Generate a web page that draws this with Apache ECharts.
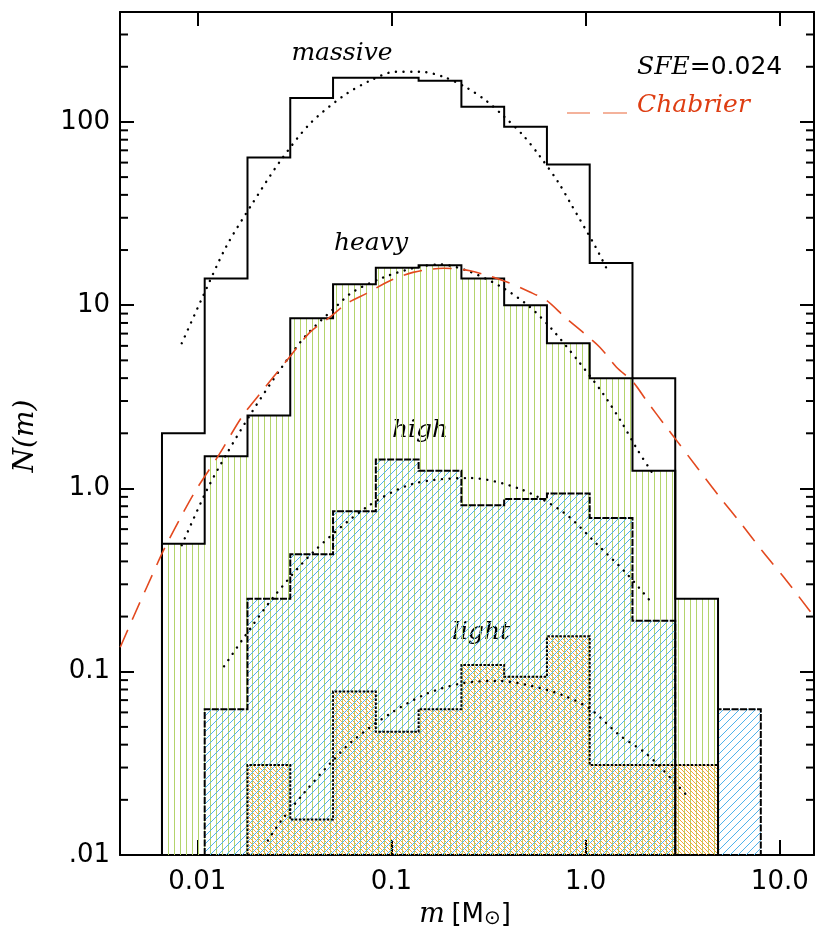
<!DOCTYPE html>
<html lang="en">
<head>
<meta charset="UTF-8">
<title>N(m) mass functions</title>
<script src="https://cdn.jsdelivr.net/npm/echarts@6.0.0/dist/echarts.min.js"></script>
<style>
  html, body { margin: 0; padding: 0; background: #fff; }
  #chart { width: 830px; height: 950px; }
</style>
</head>
<body>
<div id="chart"></div>
<script>
// bin edges of the histograms, in M_sun (equal steps in log m)
const binEdges = [0.00658, 0.01092, 0.01814, 0.03012, 0.05003, 0.08308, 0.1380, 0.2292,
                  0.3806, 0.6320, 1.0495, 1.743, 2.894, 4.807, 7.982];

// N(m) per bin, null = empty bin
const massive = [2, 14, 64, 135, 174, 174, 168, 121, 94, 58.6, 17, 4];
const heavy   = [0.5, 1.5, 2.5, 8.5, 13, 16, 16.5, 14, 10, 6.2, 4, 1.25, 0.25];
const high    = [null, 0.0625, 0.25, 0.4375, 0.75, 1.44, 1.25, 0.81, 0.875, 0.94, 0.69, 0.19, null, 0.0625];
const light   = [null, null, 0.031, 0.0156, 0.078, 0.047, 0.0625, 0.109, 0.094, 0.156, 0.031, 0.031, 0.031];

// dotted log-normal fits, [m, N]
const massiveFit = [[0.00832, 6.2], [0.0107, 11.2], [0.0141, 20.9], [0.0191, 35.5], [0.0269, 61.7],
  [0.0380, 97.7], [0.0562, 138], [0.0776, 168], [0.105, 188], [0.141, 188], [0.186, 176],
  [0.246, 153], [0.309, 130], [0.380, 107], [0.479, 84], [0.575, 66], [0.724, 46.8],
  [0.832, 36.3], [1.122, 20.9], [1.288, 15.7]];
const heavyFit = [[0.00832, 0.49], [0.0112, 0.98], [0.0141, 1.53], [0.0191, 2.61], [0.0269, 4.50],
  [0.0363, 6.84], [0.0525, 9.95], [0.0631, 11.8], [0.0912, 14.2], [0.135, 16.1], [0.178, 16.7],
  [0.251, 15.3], [0.372, 12.5], [0.513, 9.84], [0.668, 7.43], [0.912, 4.99], [1.23, 3.29],
  [1.53, 2.30], [1.86, 1.61], [2.19, 1.23]];
const highFit = [[0.01374, 0.107], [0.01726, 0.152], [0.02466, 0.255], [0.0396, 0.450], [0.0745, 0.791],
  [0.129, 1.06], [0.254, 1.14], [0.458, 0.995], [0.766, 0.743], [1.138, 0.499], [1.626, 0.343],
  [2.138, 0.245]];
const lightFit = [[0.0231, 0.0120], [0.0267, 0.0151], [0.0352, 0.0216], [0.0482, 0.0315], [0.0635, 0.0422],
  [0.0982, 0.0590], [0.152, 0.0759], [0.234, 0.0867], [0.355, 0.0891], [0.516, 0.0841],
  [0.766, 0.0743], [1.052, 0.0628], [1.500, 0.0449], [2.056, 0.0357], [2.818, 0.0255], [3.436, 0.0203]];

// Chabrier IMF (dashed)
const chabrier = [[0.00401, 0.136], [0.00469, 0.199], [0.0055, 0.290], [0.0067, 0.459], [0.00832, 0.713],
  [0.00993, 0.995], [0.01285, 1.51], [0.01694, 2.45], [0.02104, 3.29], [0.0289, 4.99], [0.0381, 7.13],
  [0.0482, 8.61], [0.0587, 10.2], [0.0745, 11.6], [0.0982, 13.6], [0.129, 15.1], [0.185, 15.9],
  [0.254, 15.4], [0.377, 13.6], [0.516, 11.8], [0.630, 10.6], [0.782, 8.6], [0.970, 7.1],
  [1.183, 5.9], [1.442, 4.59], [1.758, 3.80], [2.056, 3.02], [2.606, 2.16], [2.938, 1.83],
  [3.793, 1.28], [4.909, 0.897], [6.339, 0.641], [8.204, 0.450], [10.81, 0.315], [15.0, 0.20]];

// axis ranges and tick labels
const xMin = 0.004, xMax = 15;
const yMin = 0.01, yMax = 398;
const xTickLabels = { '-2': '0.01', '-1': '0.1', '0': '1.0', '1': '10.0' };
const yTickLabels = { '-2': '.01', '-1': '0.1', '0': '1.0', '1': '10', '2': '100' };

// minor ticks on the y axis: 2..9 times each decade
const yMinorTicks = [];
[-2, -1, 0, 1, 2].forEach(function (d) {
  for (let k = 2; k <= 9; k++) {
    const v = k * Math.pow(10, d);
    if (v < yMax) yMinorTicks.push(v);
  }
});

// hatch patterns, drawn pixel by pixel so the colour stays crisp
function hatch(size, color, on) {
  const c = document.createElement('canvas');
  c.width = size; c.height = size;
  const ctx = c.getContext('2d');
  ctx.fillStyle = color;
  for (let y = 0; y < size; y++) {
    for (let x = 0; x < size; x++) {
      if (on(x, y, size)) ctx.fillRect(x, y, 1, 1);
    }
  }
  return { image: c, repeat: 'repeat' };
}
const greenHatch = hatch(6, '#b3d46c', function (x) { return x === 0; });
const blueHatch = hatch(8, '#4eb2ec', function (x, y, s) { return (x + y) % s === 0; });
const orangeHatch = hatch(4, '#f5a236', function (x, y, s) { return (x - y + s) % s === 0; });

function bins(values) {
  const out = [];
  values.forEach(function (v, i) {
    if (v != null) out.push([binEdges[i], binEdges[i + 1], v]);
  });
  return out;
}

// step outline of a histogram, dropping to the floor at the ends and at empty bins
function outline(values) {
  const pts = [];
  let prev = yMin;
  let started = false;
  values.forEach(function (v, i) {
    if (!started && v == null) return;
    started = true;
    const h = v == null ? yMin : v;
    pts.push([binEdges[i], prev]);
    pts.push([binEdges[i], h]);
    pts.push([binEdges[i + 1], h]);
    prev = h;
  });
  pts.push([binEdges[values.length], yMin]);
  return pts;
}

function fillSeries(name, values, pattern) {
  return {
    name: name,
    type: 'custom',
    silent: true,
    data: bins(values),
    encode: { x: [0, 1], y: 2 },
    renderItem: function (params, api) {
      const a = api.coord([api.value(0), api.value(2)]);
      const b = api.coord([api.value(1), yMin]);
      return {
        type: 'rect',
        shape: { x: a[0], y: a[1], width: b[0] - a[0], height: b[1] - a[1] },
        style: { fill: pattern, stroke: null }
      };
    }
  };
}

function stepSeries(name, values, type, width) {
  return {
    name: name,
    type: 'line',
    silent: true,
    data: outline(values),
    symbol: 'none',
    lineStyle: { color: '#000', width: width, type: type, join: 'miter' }
  };
}

function fitSeries(name, pts) {
  return {
    name: name,
    type: 'line',
    silent: true,
    data: pts,
    symbol: 'none',
    smooth: 0.3,
    lineStyle: { color: '#000', width: 2.4, type: [0.1, 7.5], cap: 'round' }
  };
}

const myChart = echarts.init(document.getElementById('chart'), null, { renderer: 'canvas' });

function logLabel(map) {
  return function (v) {
    const e = Math.log10(v);
    const r = Math.round(e);
    return Math.abs(e - r) < 1e-6 && map[r] !== undefined ? map[r] : '';
  };
}

const axisLineStyle = { color: '#000', width: 2 };
const tickStyle = { color: '#000', width: 2 };

const option = {
  backgroundColor: '#fff',
  animation: false,
  grid: { left: 120, top: 12, width: 694, height: 843 },
  xAxis: [{
    type: 'log', logBase: 10, min: xMin, max: xMax, position: 'bottom',
    axisLine: { lineStyle: axisLineStyle },
    axisTick: { inside: true, length: 15, lineStyle: tickStyle },
    axisLabel: {
      formatter: logLabel(xTickLabels), fontSize: 26, fontFamily: 'DejaVu Sans',
      color: '#000', margin: 14, showMinLabel: false, showMaxLabel: false
    },
    splitLine: { show: false }
  }, {
    type: 'log', logBase: 10, min: xMin, max: xMax, position: 'top',
    axisLine: { lineStyle: axisLineStyle },
    axisTick: { inside: true, length: 14, lineStyle: tickStyle },
    axisLabel: { show: false },
    splitLine: { show: false }
  }],
  yAxis: [{
    type: 'log', logBase: 10, min: yMin, max: yMax, position: 'left',
    axisLine: { lineStyle: axisLineStyle },
    axisTick: { inside: true, length: 14, lineStyle: tickStyle },
    axisLabel: {
      formatter: logLabel(yTickLabels), fontSize: 26, fontFamily: 'DejaVu Sans',
      color: '#000', margin: 10
    },
    splitLine: { show: false }
  }, {
    type: 'log', logBase: 10, min: yMin, max: yMax, position: 'right',
    axisLine: { lineStyle: axisLineStyle },
    axisTick: { inside: true, length: 14, lineStyle: tickStyle },
    axisLabel: { show: false },
    splitLine: { show: false }
  }],
  series: [
    fillSeries('heavy fill', heavy, greenHatch),
    fillSeries('light fill', light, orangeHatch),
    fillSeries('high fill', high, blueHatch),
    stepSeries('massive', massive, 'solid', 2),
    stepSeries('heavy', heavy, 'solid', 2),
    stepSeries('high', high, [7, 1.5], 2),
    stepSeries('light', light, [2.5, 1.5], 2),
    fitSeries('massive fit', massiveFit),
    fitSeries('heavy fit', heavyFit),
    fitSeries('high fit', highFit),
    fitSeries('light fit', lightFit),
    {
      name: 'Chabrier',
      type: 'line',
      silent: true,
      data: chabrier,
      symbol: 'none',
      smooth: 0.3,
      lineStyle: { color: '#e3491f', width: 1.6, type: [19, 11] }
    },
    {
      name: 'minor ticks',
      type: 'custom',
      silent: true,
      data: yMinorTicks.map(function (v) { return [xMin, v]; }),
      renderItem: function (params, api) {
        const cs = params.coordSys;
        const y = api.coord([xMin, api.value(1)])[1];
        return {
          type: 'group',
          children: [
            { type: 'line', shape: { x1: cs.x, y1: y, x2: cs.x + 8, y2: y }, style: { stroke: '#000', lineWidth: 2 } },
            { type: 'line', shape: { x1: cs.x + cs.width - 8, y1: y, x2: cs.x + cs.width, y2: y }, style: { stroke: '#000', lineWidth: 2 } }
          ]
        };
      }
    }
  ],
  graphic: [
    { type: 'text', x: 342, y: 53, style: { text: 'massive', font: 'italic 25px "DejaVu Serif"', fill: '#000', align: 'center', verticalAlign: 'middle', textAlign: 'center', textVerticalAlign: 'middle' } },
    { type: 'text', x: 371, y: 243, style: { text: 'heavy', font: 'italic 25px "DejaVu Serif"', fill: '#000', align: 'center', verticalAlign: 'middle', textAlign: 'center', textVerticalAlign: 'middle' } },
    { type: 'text', x: 420, y: 430, style: { text: 'high', font: 'italic 25px "DejaVu Serif"', fill: '#000', align: 'center', verticalAlign: 'middle', textAlign: 'center', textVerticalAlign: 'middle' } },
    { type: 'text', x: 481, y: 632, style: { text: 'light', font: 'italic 25px "DejaVu Serif"', fill: '#000', align: 'center', verticalAlign: 'middle', textAlign: 'center', textVerticalAlign: 'middle' } },
    {
      type: 'text', x: 637, y: 67,
      style: {
        text: '{a|SFE}{b|=0.024}', fill: '#000', align: 'left', verticalAlign: 'middle', textVerticalAlign: 'middle',
        rich: {
          a: { font: 'italic 25px "DejaVu Serif"', fill: '#000' },
          b: { font: '25px "DejaVu Sans"', fill: '#000' }
        }
      }
    },
    { type: 'line', shape: { x1: 567, y1: 113, x2: 590, y2: 113 }, style: { stroke: '#f0997a', lineWidth: 1.5 } },
    { type: 'line', shape: { x1: 603, y1: 113, x2: 627, y2: 113 }, style: { stroke: '#f0997a', lineWidth: 1.5 } },
    { type: 'text', x: 637, y: 105, style: { text: 'Chabrier', font: 'italic 25px "DejaVu Serif"', fill: '#de3d12', align: 'left', verticalAlign: 'middle', textVerticalAlign: 'middle' } },
    {
      type: 'text', x: 465, y: 915,
      style: {
        text: '{m|m}  {s|[M}{o|⊙}{s|]}', align: 'center', verticalAlign: 'middle', textAlign: 'center', textVerticalAlign: 'middle',
        rich: {
          m: { font: 'italic 27px "DejaVu Serif"', fill: '#000' },
          s: { font: '26px "DejaVu Sans"', fill: '#000' },
          o: { font: '20px "DejaVu Sans"', fill: '#000', padding: [8, 0, 0, 0] }
        }
      }
    },
    {
      type: 'text', x: 26, y: 436, rotation: Math.PI / 2,
      style: { text: 'N(m)', font: 'italic 28px "DejaVu Serif"', fill: '#000', align: 'center', verticalAlign: 'middle', textAlign: 'center', textVerticalAlign: 'middle' }
    }
  ]
};

myChart.setOption(option);
window.addEventListener('resize', function () { myChart.resize(); });
</script>
</body>
</html>
